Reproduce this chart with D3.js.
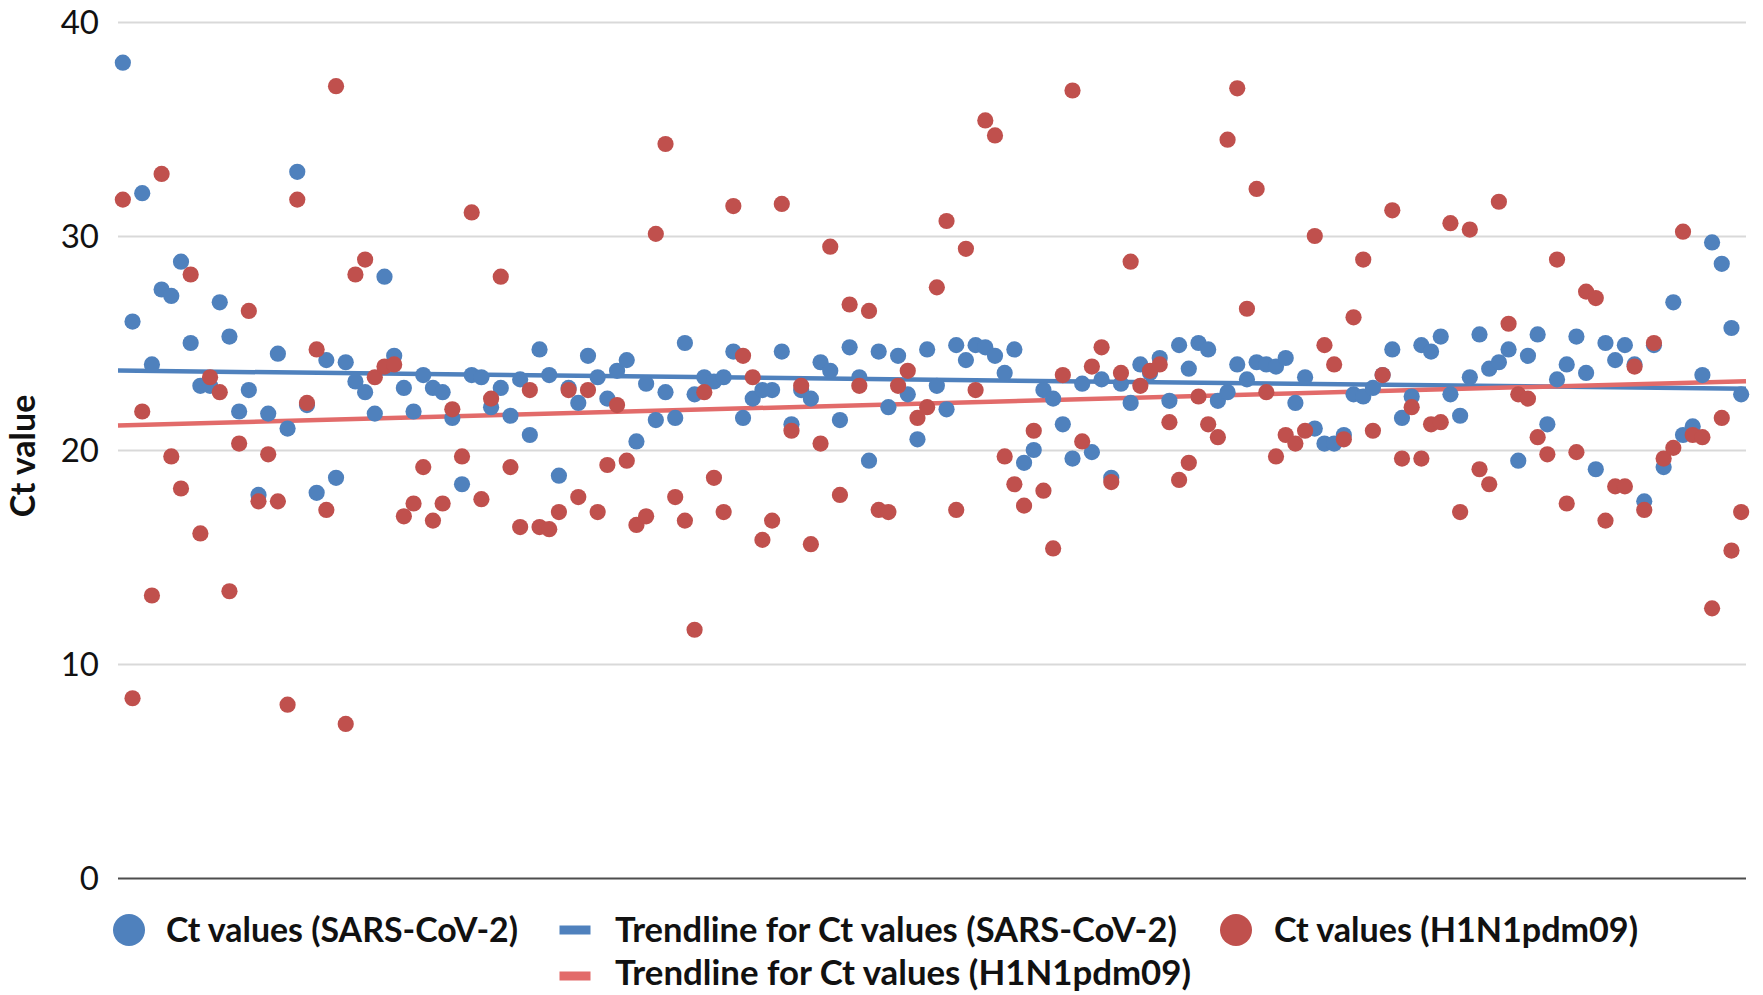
<!DOCTYPE html>
<html><head><meta charset="utf-8">
<script src="https://cdn.jsdelivr.net/npm/d3@7"></script>
<style>body{margin:0;background:#fff;overflow:hidden;} svg{display:block;}</style>
</head><body>
<svg id="chart" width="1763" height="995"></svg>
<script>
// Ct values per sample, SARS-CoV-2 (blue)
const sarsCov2 = [
38.1,26.0,32.0,24.0,27.5,27.2,28.8,25.0,23.0,23.0,26.9,25.3,21.8,22.8,17.9,21.7,24.5,21.0,33.0,22.1,
18.0,24.2,18.7,24.1,23.2,22.7,21.7,28.1,24.4,22.9,21.8,23.5,22.9,22.7,21.5,18.4,23.5,23.4,22.0,22.9,
21.6,23.3,20.7,24.7,23.5,18.8,22.9,22.2,24.4,23.4,22.4,23.7,24.2,20.4,23.1,21.4,22.7,21.5,25.0,22.6,
23.4,23.2,23.4,24.6,21.5,22.4,22.8,22.8,24.6,21.2,22.8,22.4,24.1,23.7,21.4,24.8,23.4,19.5,24.6,22.0,
24.4,22.6,20.5,24.7,23.0,21.9,24.9,24.2,24.9,24.8,24.4,23.6,24.7,19.4,20.0,22.8,22.4,21.2,19.6,23.1,
19.9,23.3,18.7,23.1,22.2,24.0,23.6,24.3,22.3,24.9,23.8,25.0,24.7,22.3,22.7,24.0,23.3,24.1,24.0,23.9,
24.3,22.2,23.4,21.0,20.3,20.3,20.7,22.6,22.5,22.9,23.5,24.7,21.5,22.5,24.9,24.6,25.3,22.6,21.6,23.4,
25.4,23.8,24.1,24.7,19.5,24.4,25.4,21.2,23.3,24.0,25.3,23.6,19.1,25.0,24.2,24.9,24.0,17.6,24.9,19.2,
26.9,20.7,21.1,23.5,29.7,28.7,25.7,22.6
];
// Ct values per sample, H1N1pdm09 (red)
const h1n1 = [
31.7,8.4,21.8,13.2,32.9,19.7,18.2,28.2,16.1,23.4,22.7,13.4,20.3,26.5,17.6,19.8,17.6,8.1,31.7,22.2,
24.7,17.2,37.0,7.2,28.2,28.9,23.4,23.9,24.0,16.9,17.5,19.2,16.7,17.5,21.9,19.7,31.1,17.7,22.4,28.1,
19.2,16.4,22.8,16.4,16.3,17.1,22.8,17.8,22.8,17.1,19.3,22.1,19.5,16.5,16.9,30.1,34.3,17.8,16.7,11.6,
22.7,18.7,17.1,31.4,24.4,23.4,15.8,16.7,31.5,20.9,23.0,15.6,20.3,29.5,17.9,26.8,23.0,26.5,17.2,17.1,
23.0,23.7,21.5,22.0,27.6,30.7,17.2,29.4,22.8,35.4,34.7,19.7,18.4,17.4,20.9,18.1,15.4,23.5,36.8,20.4,
23.9,24.8,18.5,23.6,28.8,23.0,23.7,24.0,21.3,18.6,19.4,22.5,21.2,20.6,34.5,36.9,26.6,32.2,22.7,19.7,
20.7,20.3,20.9,30.0,24.9,24.0,20.5,26.2,28.9,20.9,23.5,31.2,19.6,22.0,19.6,21.2,21.3,30.6,17.1,30.3,
19.1,18.4,31.6,25.9,22.6,22.4,20.6,19.8,28.9,17.5,19.9,27.4,27.1,16.7,18.3,18.3,23.9,17.2,25.0,19.6,
20.1,30.2,20.7,20.6,12.6,21.5,15.3,17.1
];
const yTicks = [0, 10, 20, 30, 40];
const yTitle = "Ct value";
const legendLabels = [
  "Ct values (SARS-CoV-2)",
  "Trendline for Ct values (SARS-CoV-2)",
  "Ct values (H1N1pdm09)",
  "Trendline for Ct values (H1N1pdm09)"
];

const BLUE = "#4F81BD", RED = "#C0504D", RED_TREND = "#E26B6A", BLUE_TREND = "#4F81BD";
const FONT = "Lato, 'Open Sans', sans-serif";

const svg = d3.select("#chart");
const X0 = 118, X1 = 1746, Y0 = 878, Y1 = 22;
const n = sarsCov2.length;
const x = d3.scaleLinear().domain([-0.5, n - 0.5]).range([X0, X1]);
const y = d3.scaleLinear().domain([0, 40]).range([Y0, Y1]);

// gridlines + y labels
const yAxis = d3.axisLeft(y).tickValues(yTicks).tickSize(-(X1 - X0)).tickPadding(19).tickFormat(d3.format("d"));
const ga = svg.append("g").attr("transform", `translate(${X0},0)`).call(yAxis);
ga.select(".domain").remove();
ga.selectAll(".tick line").attr("stroke", "#D9D9D9").attr("stroke-width", 2)
  .filter(d => d === 0).attr("stroke", "#4D4D4D").attr("stroke-width", 2.2);
ga.selectAll(".tick text").attr("font-family", FONT).attr("font-size", 33).attr("fill", "#111")
  .attr("dy", "0.36em");

// y title
svg.append("text")
  .attr("transform", `translate(35,${(Y0 + Y1) / 2 + 6}) rotate(-90)`)
  .attr("text-anchor", "middle")
  .attr("font-family", FONT).attr("font-weight", "bold").attr("font-size", 34)
  .attr("fill", "#111")
  .text(yTitle);

// linear regression trendlines
function fit(vals) {
  const xs = vals.map((_, i) => i + 1);
  const mx = d3.mean(xs), my = d3.mean(vals);
  let sxy = 0, sxx = 0;
  xs.forEach((xi, i) => { sxy += (xi - mx) * (vals[i] - my); sxx += (xi - mx) * (xi - mx); });
  const b = sxy / sxx, a = my - b * mx;
  return t => a + b * (t + 1);
}
const line = d3.line().x(d => x(d[0])).y(d => y(d[1]));
[[sarsCov2, BLUE_TREND], [h1n1, RED_TREND]].forEach(([vals, col]) => {
  const f = fit(vals);
  const pts = [[-0.5, f(-0.5)], [n - 0.5, f(n - 0.5)]];
  svg.append("path").attr("d", line(pts)).attr("fill", "none")
    .attr("stroke", col).attr("stroke-width", 4.5);
});

// dots
svg.append("g").selectAll("circle").data(sarsCov2).join("circle")
  .attr("cx", (d, i) => x(i)).attr("cy", d => y(d)).attr("r", 8.1).attr("fill", BLUE);
svg.append("g").selectAll("circle").data(h1n1).join("circle")
  .attr("cx", (d, i) => x(i)).attr("cy", d => y(d)).attr("r", 8.1).attr("fill", RED);

// legend
const lg = svg.append("g").attr("font-family", FONT).attr("font-weight", "bold")
  .attr("font-size", 35).attr("fill", "#111");
const legendItems = [
  {type: "dot", color: BLUE, mx: 129, my: 930, ty: 942, tx: 166, tw: 352, label: legendLabels[0]},
  {type: "bar", color: BLUE_TREND, mx: 575, my: 930, ty: 942, tx: 615, tw: 562, label: legendLabels[1]},
  {type: "dot", color: RED, mx: 1236, my: 930, ty: 942, tx: 1274, tw: 364, label: legendLabels[2]},
  {type: "bar", color: RED_TREND, mx: 575, my: 976, ty: 985, tx: 615, tw: 576, label: legendLabels[3]}
];
legendItems.forEach(it => {
  if (it.type === "dot") {
    lg.append("circle").attr("cx", it.mx).attr("cy", it.my).attr("r", 16).attr("fill", it.color);
  } else {
    lg.append("rect").attr("x", it.mx - 15.5).attr("y", it.my - 4.5).attr("width", 31).attr("height", 9).attr("fill", it.color);
  }
  lg.append("text").attr("x", it.tx).attr("y", it.ty)
    .attr("textLength", it.tw).attr("lengthAdjust", "spacingAndGlyphs")
    .text(it.label);
});
</script>
</body></html>
